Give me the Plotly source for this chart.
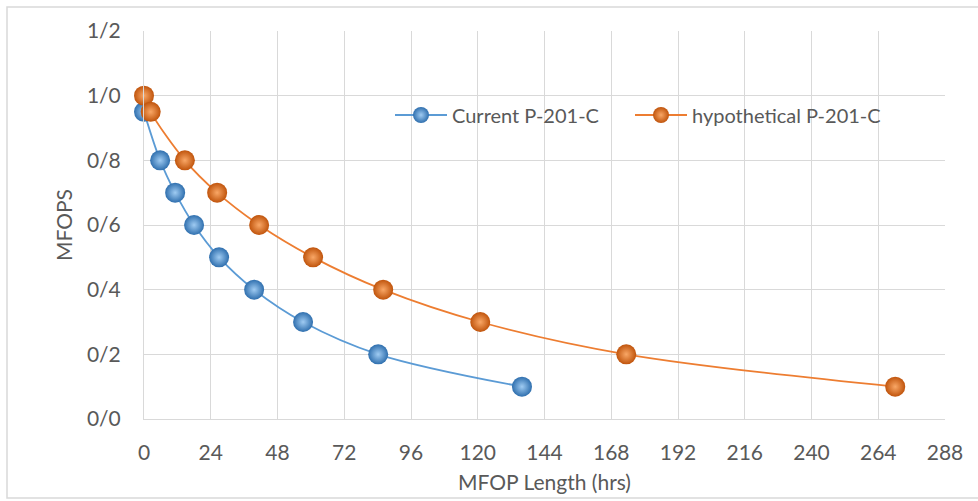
import plotly.graph_objects as go

# Data
current_x = [0, 5.8, 11.2, 18, 27, 39.6, 57.2, 84.2, 135.9]
current_y = [0.95, 0.8, 0.7, 0.6, 0.5, 0.4, 0.3, 0.2, 0.1]
hypo_x = [0, 2.4, 14.7, 26.3, 41.4, 60.8, 86, 120.9, 173.4, 270.1]
hypo_y = [1.0, 0.95, 0.8, 0.7, 0.6, 0.5, 0.4, 0.3, 0.2, 0.1]

x_ticks = list(range(0, 289, 24))
y_ticks = [0, 0.2, 0.4, 0.6, 0.8, 1.0, 1.2]
y_tick_text = ["0/0", "0/2", "0/4", "0/6", "0/8", "1/0", "1/2"]

FONT = "Lato, 'Open Sans', sans-serif"
GRAY = "#595959"

fig = go.Figure()
fig.add_trace(go.Scatter(
    x=current_x, y=current_y, name="Current P-201-C",
    mode="lines+markers", line=dict(color="#5B9BD5", width=1.8, shape="spline"),
    marker=dict(size=20, color="#2F6FAE", line=dict(width=0),
                gradient=dict(type="radial", color="#9FCBF2")),
    cliponaxis=False, legend="legend",
))
fig.add_trace(go.Scatter(
    x=hypo_x, y=hypo_y, name="hypothetical P-201-C",
    mode="lines+markers", line=dict(color="#ED7D31", width=1.8, shape="spline"),
    marker=dict(size=20, color="#C0540C", line=dict(width=0),
                gradient=dict(type="radial", color="#F9A766")),
    cliponaxis=False, legend="legend2",
))

L, R, T, B = 144, 33, 31, 82
W, H = 978, 501
pw, ph = W - L - R, H - T - B

leg_common = dict(orientation="h", y=(T + ph - 115) / ph,
                  xanchor="left", yanchor="middle", bgcolor="rgba(0,0,0,0)",
                  font=dict(size=20, color=GRAY), itemwidth=52)

fig.update_layout(
    width=W, height=H,
    margin=dict(l=L, r=R, t=T, b=B),
    paper_bgcolor="white", plot_bgcolor="white",
    font=dict(family=FONT, size=20, color=GRAY),
    showlegend=True,
    legend=dict(x=(390 - L) / pw, **leg_common),
    legend2=dict(x=(630 - L) / pw, **leg_common),
    xaxis=dict(range=[0, 288], tickvals=x_ticks, showgrid=True,
               gridcolor="#D9D9D9", gridwidth=1, zeroline=False,
               showline=True, linecolor="#D9D9D9", ticks="",
               ticklabelstandoff=15, automargin=False,
               tickfont=dict(size=21, color=GRAY),
               title=dict(text="MFOP Length (hrs)", font=dict(size=21, color=GRAY),
                          standoff=12)),
    yaxis=dict(range=[0, 1.2], tickvals=y_ticks, ticktext=y_tick_text,
               showgrid=True, gridcolor="#D9D9D9", gridwidth=1, zeroline=False,
               showline=True, linecolor="#D9D9D9", ticks="",
               ticklabelstandoff=18, automargin=False,
               tickfont=dict(size=21, color=GRAY),
               title=dict(text="MFOPS", font=dict(size=21, color=GRAY),
                          standoff=8)),
    shapes=[dict(type="rect", xref="paper", yref="paper",
                 x0=(7 - L) / pw, x1=(990 - L) / pw,
                 y0=(T + ph - 498) / ph, y1=(T + ph - 7) / ph,
                 line=dict(color="#D9D9D9", width=1.5), layer="below")],
)

fig.write_html("out.html")
